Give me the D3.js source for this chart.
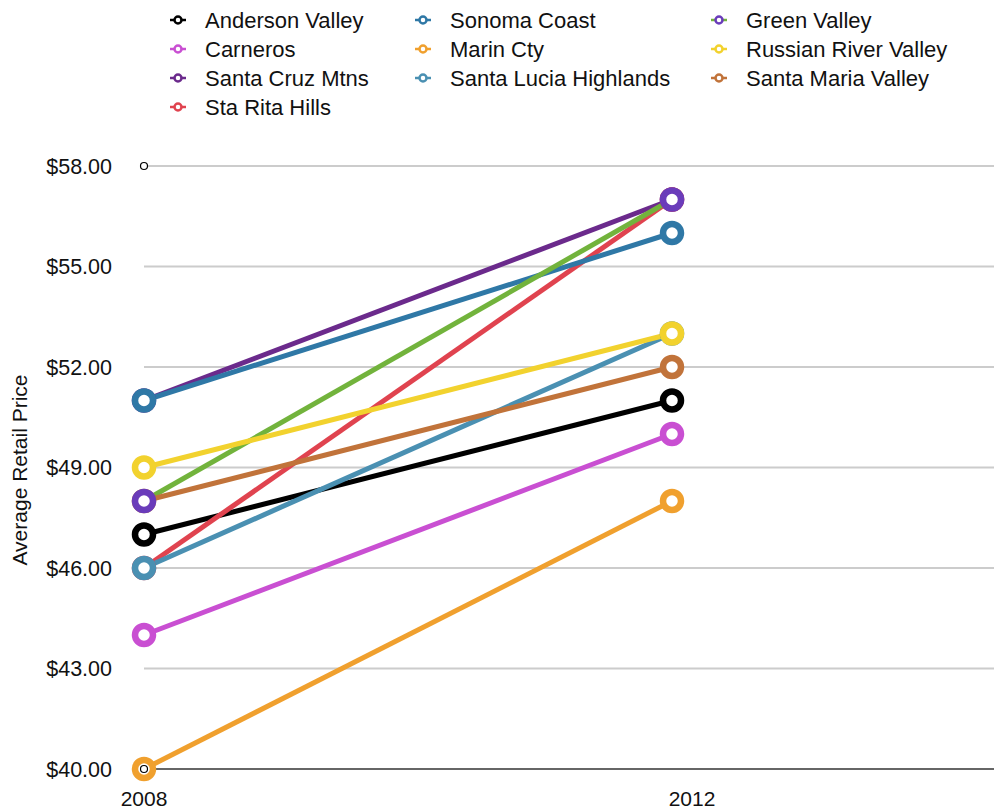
<!DOCTYPE html>
<html>
<head>
<meta charset="utf-8">
<script src="https://cdn.jsdelivr.net/npm/d3@7"></script>
<style>
  body { margin: 0; background: #fff; }
  text { font-family: "Liberation Sans", Arial, Helvetica, sans-serif; fill: #111; }
</style>
</head>
<body>
<div id="chart"></div>
<script>
// data
const years = ["2008", "2012"];
const regions = ["Anderson Valley", "Carneros", "Santa Cruz Mtns", "Sta Rita Hills",
                 "Sonoma Coast", "Marin Cty", "Santa Lucia Highlands",
                 "Green Valley", "Russian River Valley", "Santa Maria Valley"];
const price2008 = [47, 44, 51, 46, 51, 40, 46, 48, 49, 48];
const price2012 = [51, 50, 57, 57, 56, 48, 53, 57, 53, 52];
const lineColors = ["#000000", "#c94fd2", "#6b2a8c", "#e0434f", "#2f78a6", "#f0a02e",
                    "#4a90b2", "#72b33c", "#f2d22e", "#c1733a"];
const markColors = ["#000000", "#c94fd2", "#6b2a8c", "#e0434f", "#2f78a6", "#f0a02e",
                    "#4a90b2", "#6a3cba", "#f2d22e", "#c1733a"];
// order the markers get stacked in (green valley ends up on top)
const markOrder = [0, 1, 2, 3, 4, 5, 6, 8, 9, 7];
const yTicks = [40, 43, 46, 49, 52, 55, 58];

const W = 994, H = 809;

const svg = d3.select("#chart").append("svg")
    .attr("width", W)
    .attr("height", H);

// scales
const x = d3.scalePoint().domain(years).range([144, 672]);
const y = d3.scaleLinear().domain([40, 58]).range([769, 166]);

// gridlines
svg.append("g")
    .selectAll("line")
    .data(yTicks.filter(t => t !== 40))
    .enter()
    .append("line")
        .attr("x1", 144)
        .attr("x2", W)
        .attr("y1", d => y(d))
        .attr("y2", d => y(d))
        .attr("stroke", "#cccccc")
        .attr("stroke-width", 2);

// bottom axis line
svg.append("line")
    .attr("x1", 144).attr("x2", W)
    .attr("y1", y(40)).attr("y2", y(40))
    .attr("stroke", "#666")
    .attr("stroke-width", 2);

// y tick labels
svg.append("g")
    .selectAll("text")
    .data(yTicks)
    .enter()
    .append("text")
        .attr("x", 112)
        .attr("y", d => y(d))
        .attr("dy", "0.36em")
        .attr("text-anchor", "end")
        .attr("font-size", 21.5)
        .text(d => "$" + d3.format(".2f")(d));

// y axis title
svg.append("text")
    .attr("transform", "translate(27,470) rotate(-90)")
    .attr("text-anchor", "middle")
    .attr("font-size", 21)
    .text("Average Retail Price");

// x labels (the 2012 one sits a bit right of its point in the original)
svg.append("g")
    .selectAll("text")
    .data(years)
    .enter()
    .append("text")
        .attr("x", (d, i) => x(d) + (i === 0 ? 0 : 20))
        .attr("y", 806)
        .attr("text-anchor", "middle")
        .attr("font-size", 21)
        .text(d => d);

// build series
let series = regions.map((r, i) => ({
    name: r,
    line: lineColors[i],
    mark: markColors[i],
    values: [price2008[i], price2012[i]]
}));

const line = d3.line()
    .x((d, i) => x(years[i]))
    .y(d => y(d));

// all the lines first
svg.append("g")
    .selectAll("path")
    .data(series)
    .enter()
    .append("path")
        .attr("d", d => line(d.values))
        .attr("fill", "none")
        .attr("stroke", d => d.line)
        .attr("stroke-width", 5);

// then the markers
let marks = [];
for (let k of markOrder) {
    let s = series[k];
    s.values.forEach((v, i) => marks.push({ year: years[i], val: v, color: s.mark }));
}
svg.append("g")
    .selectAll("circle")
    .data(marks)
    .enter()
    .append("circle")
        .attr("cx", d => x(d.year))
        .attr("cy", d => y(d.val))
        .attr("r", 9)
        .attr("fill", "#fff")
        .attr("stroke", d => d.color)
        .attr("stroke-width", 6.5);

// little open circles at the ends of the value axis
svg.append("g")
    .selectAll("circle")
    .data([58, 40])
    .enter()
    .append("circle")
        .attr("cx", x("2008"))
        .attr("cy", d => y(d))
        .attr("r", 3.5)
        .attr("fill", "#fff")
        .attr("stroke", "#000")
        .attr("stroke-width", 1.2);

// legend: first column has 4 rows, the others 3
function legendPos(i) {
    if (i < 4) return { col: 0, row: i };
    return { col: 1 + Math.floor((i - 4) / 3), row: (i - 4) % 3 };
}
const colX = [178, 423, 719];
const rowY = [20, 49, 78, 107];

let legend = svg.append("g")
    .selectAll("g")
    .data(series)
    .enter()
    .append("g")
        .attr("transform", (d, i) => {
            let p = legendPos(i);
            return "translate(" + colX[p.col] + "," + rowY[p.row] + ")";
        });

legend.append("line")
    .attr("x1", -8).attr("x2", 8)
    .attr("stroke", d => d.line)
    .attr("stroke-width", 2.5);

legend.append("circle")
    .attr("r", 3.5)
    .attr("fill", "#fff")
    .attr("stroke", d => d.mark)
    .attr("stroke-width", 2.5);

legend.append("text")
    .attr("x", 27)
    .attr("dy", "0.36em")
    .attr("font-size", 22)
    .text(d => d.name);
</script>
</body>
</html>
